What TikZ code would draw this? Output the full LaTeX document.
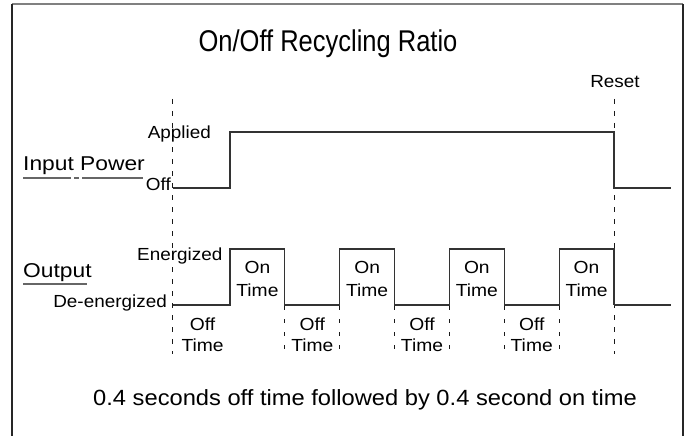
\documentclass[tikz,border=0pt]{standalone}
\usepackage{fontspec}
\setmainfont{Liberation Sans}
\usepackage{graphicx}
\newcommand{\hsc}[2]{\scalebox{#1}[1]{#2}}
\tikzset{
  frameline/.style={draw=black!85, line width=1.2pt},
  topline/.style={draw=black!50, line width=1.4pt},
  wave/.style={draw=black!80, line width=1.1pt},
  guide/.style={draw=black!90, line width=1pt, dash pattern=on 5pt off 7pt},
  shortguide/.style={draw=black!90, line width=1pt, dash pattern=on 4pt off 9pt},
  uline/.style={draw=black!60, line width=1.2pt},
  lbl/.style={font=\fontsize{17.5}{20}\selectfont, inner sep=0pt, text=black},
  biglbl/.style={font=\fontsize{20}{24}\selectfont, inner sep=0pt, text=black},
  titlelbl/.style={font=\fontsize{30}{34}\selectfont, inner sep=0pt, text=black},
  notelbl/.style={font=\fontsize{22}{26}\selectfont, inner sep=0pt, text=black},
}
\begin{document}
\begin{tikzpicture}[x=1pt, y=-1pt]
\useasboundingbox (0,0) rectangle (689,436);
% frame
\coordinate (ftl) at (12,4);
\coordinate (ftr) at (683,4);
\coordinate (fbl) at (12,436);
\coordinate (fbr) at (683,436);
\draw[topline] (ftl) -- (ftr);
\draw[frameline] (fbl) -- (ftl);
\draw[frameline] (ftr) -- (fbr);

% title
\node[titlelbl, anchor=base] (title) at (328,52) {\hsc{0.85}{On/Off Recycling Ratio}};
\node[lbl, anchor=base] (reset) at (615,88) {\hsc{1.08}{Reset}};

% guide dashed lines
\coordinate (gl1) at (172,99);
\coordinate (gl2) at (172,354);
\coordinate (gr1) at (614,99);
\coordinate (gr2) at (614,354);
\draw[guide] (gl1) -- (gl2);
\draw[guide] (gr1) -- (gr2);

% input power waveform
\coordinate (i0) at (173,188);
\coordinate (i1) at (230,188);
\coordinate (i2) at (230,132);
\coordinate (i3) at (614,132);
\coordinate (i4) at (614,188);
\coordinate (i5) at (671,188);
\draw[wave] (i0) -- (i1) -- (i2) -- (i3) -- (i4) -- (i5);

% input labels
\node[lbl, anchor=base east] (applied) at (211,139) {\hsc{1.08}{Applied}};
\node[lbl, anchor=base east] (offin) at (171,190) {\hsc{1.08}{Off}};
\node[biglbl, anchor=base west] (inpow) at (23,170) {\hsc{1.14}{Input Power}};
\coordinate (u1) at (23,178);
\coordinate (u2) at (143,178);
\draw[uline, dash pattern=on 48pt off 3pt on 5pt off 3pt on 100pt] (u1) -- (u2);

% output waveform
\coordinate (o0) at (173,305);
\coordinate (o1) at (230,305);
\coordinate (o8) at (614,305);
\coordinate (o9) at (671,305);
\draw[wave] (o0) -- (o1)
  \foreach \k in {0,1,2,3} {
    -- ({230+2*\k*54.857},249) -- ({230+(2*\k+1)*54.857},249)
    -- ({230+(2*\k+1)*54.857},305)
    \ifnum\k<3 -- ({230+(2*\k+2)*54.857},305)\fi
  };
\draw[wave] (o8) -- (o9);

% short dashed guides
\foreach \k in {1,...,6} {
  \coordinate (sg\k a) at ({230+\k*54.857},306);
  \coordinate (sg\k b) at ({230+\k*54.857},354);
  \draw[shortguide] (sg\k a) -- (sg\k b);
}

% output labels
\node[lbl, anchor=base west] (energ) at (137,260) {\hsc{1.08}{Energized}};
\node[lbl, anchor=base east] (deenerg) at (167,307) {\hsc{1.08}{De-energized}};
\node[biglbl, anchor=base west] (outlbl) at (23,277) {\hsc{1.14}{Output}};
\coordinate (v1) at (23,284);
\coordinate (v2) at (87,284);
\draw[uline] (v1) -- (v2);

% On Time labels
\foreach \k in {0,1,2,3} {
  \node[lbl, anchor=base] (on\k) at ({230+(2*\k+0.5)*54.857},273) {\hsc{1.1}{On}};
  \node[lbl, anchor=base] (ont\k) at ({230+(2*\k+0.5)*54.857},296) {\hsc{1.1}{Time}};
}
% Off Time labels
\foreach \k in {0,1,2,3} {
  \node[lbl, anchor=base] (off\k) at ({230+(2*\k-0.5)*54.857},330) {\hsc{1.1}{Off}};
  \node[lbl, anchor=base] (offt\k) at ({230+(2*\k-0.5)*54.857},351) {\hsc{1.1}{Time}};
}

% note
\node[notelbl, anchor=base] (note) at (365,405) {\hsc{1.077}{0.4 seconds off time followed by 0.4 second on time}};
\end{tikzpicture}
\end{document}
